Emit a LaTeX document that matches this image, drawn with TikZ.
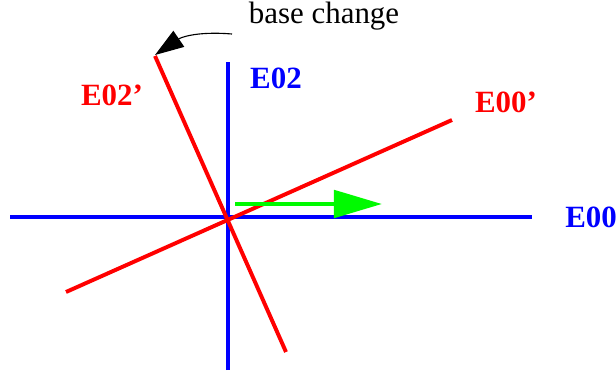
\documentclass[tikz,border=0pt]{standalone}
\usepackage{fontspec}
\setmainfont{Liberation Serif}
\usetikzlibrary{arrows.meta}
\definecolor{AxisBlue}{RGB}{0, 0, 255}
\definecolor{AxisRed}{RGB}{255, 0, 0}
\definecolor{VecGreen}{RGB}{0, 250, 0}
\begin{document}
\begin{tikzpicture}[
    x=0.025cm, y=-0.025cm,
    every node/.style={font=\fontsize{22}{26}\selectfont, inner sep=0pt},
    blueaxis/.style={draw=AxisBlue, line width=2.8pt},
    redaxis/.style={draw=AxisRed, line width=2.8pt},
    bluelabel/.style={text=AxisBlue, font=\fontsize{22}{26}\selectfont\bfseries},
    redlabel/.style={text=AxisRed, font=\fontsize{22}{26}\selectfont\bfseries},
    vecarrow/.style={draw=VecGreen, line width=3.2pt, -{Triangle[length=1.2cm, width=0.68cm, fill=VecGreen]}},
    notearrow/.style={draw=black, line width=0.8pt, -{Triangle[length=0.72cm, width=0.48cm]}}
  ]
    \useasboundingbox (0,0) rectangle (616,375);

    % Original axes
    \coordinate (e00a) at (10,217);
    \coordinate (e00b) at (532,217);
    \coordinate (e02a) at (228,370);
    \coordinate (e02b) at (228,62);
    \draw[blueaxis] (e00a) -- (e00b);
    \draw[blueaxis] (e02a) -- (e02b);

    % Rotated axes
    \coordinate (r00a) at (66,292);
    \coordinate (r00b) at (452,120);
    \coordinate (r02a) at (286,352);
    \coordinate (r02b) at (155,56);
    \draw[redaxis] (r00a) -- (r00b);
    \draw[redaxis] (r02a) -- (r02b);

    % Vector
    \coordinate (vstart) at (235,204);
    \coordinate (vend) at (382,204);
    \draw[vecarrow] (vstart) -- (vend);

    % Labels
    \node[bluelabel, anchor=west] (lab00) at (565,217) {E00};
    \node[bluelabel] (lab02) at (276,78) {E02};
    \node[redlabel] (lab02r) at (112,95) {E02'};
    \node[redlabel] (lab00r) at (506,102) {E00'};
    \node (note) at (324,16) {base change};

    % Annotation arrow
    \coordinate (nstart) at (232,34);
    \coordinate (ntip) at (155,55);
    \draw[notearrow] (nstart) .. controls (195,31) and (180,38) .. (ntip);
\end{tikzpicture}
\end{document}
